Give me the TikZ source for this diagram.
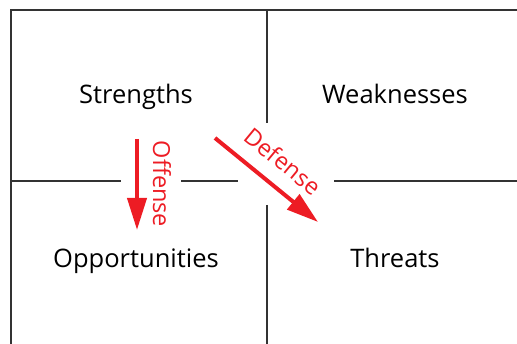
\documentclass[tikz,border=0pt]{standalone}
\usepackage{fontspec}
\setmainfont{Open Sans}
\usetikzlibrary{arrows.meta}
\definecolor{swred}{HTML}{ED1C24}
\definecolor{gridc}{HTML}{333333}
\tikzset{
  gridline/.style={draw=gridc, line width=2pt},
  quad/.style={font=\fontsize{25.5}{28}\selectfont, text=black, inner sep=0pt, anchor=base},
  redlabel/.style={font=\fontsize{23.5}{26}\selectfont, text=swred, inner sep=0pt},
  redarrow/.style={draw=swred, line width=4pt, -{Triangle[length=32pt,width=19pt]}}
}
\begin{document}
\begin{tikzpicture}[x=1pt,y=-1pt]
\useasboundingbox (0,0) rectangle (517,344);
% grid
\draw[gridline] (517,10.5) -- (10.5,10.5) -- (10.5,344);
\draw[gridline] (266.5,10) -- (266.5,123);
\draw[gridline] (266.5,205) -- (266.5,344);
\draw[gridline] (10,181) -- (121,181);
\draw[gridline] (181,181) -- (238,181);
\draw[gridline] (334,181) -- (517,181);
% quadrant labels
\node[quad] (s) at (136,104) {Strengths};
\node[quad] (w) at (395,104) {Weaknesses};
\node[quad] (o) at (136,268) {Opportunities};
\node[quad] (t) at (395,268) {Threats};
% arrows
\coordinate (offA) at (137,139);
\coordinate (offB) at (137,230);
\coordinate (defA) at (215,138);
\coordinate (defB) at (318,222);
\draw[redarrow] (offA) -- (offB);
\draw[redarrow] (defA) -- (defB);
\node[redlabel, rotate=-90] (offl) at (162,184) {Offense};
\node[redlabel, rotate=-39.5] (defl) at (283,161) {Defense};
\end{tikzpicture}
\end{document}
